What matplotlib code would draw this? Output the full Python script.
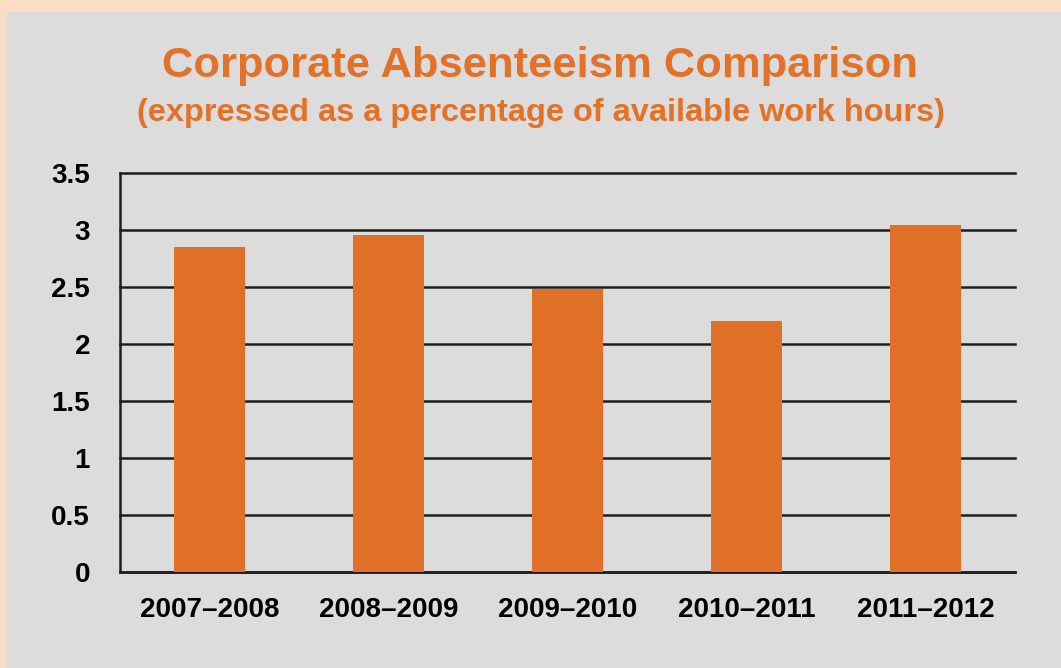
import matplotlib
matplotlib.use("Agg")
import matplotlib.pyplot as plt

categories = ["2007\u20132008", "2008\u20132009", "2009\u20132010", "2010\u20132011", "2011\u20132012"]
values = [2.85, 2.95, 2.48, 2.20, 3.04]
yticks = [0, 0.5, 1, 1.5, 2, 2.5, 3, 3.5]
ytick_labels = ["0", "0.5", "1", "1.5", "2", "2.5", "3", "3.5"]

W, H = 1061, 668
fig = plt.figure(figsize=(W / 100, H / 100), dpi=100)
fig.patch.set_facecolor("#F9DEC5")
bg = fig.add_axes([7 / W, 0, 1 - 7 / W, 1 - 12 / H], zorder=-5)
bg.set_facecolor("#DCDCDC")
bg.set_xticks([])
bg.set_yticks([])
for s in bg.spines.values():
    s.set_visible(False)

font = "Liberation Sans"
ax = fig.add_axes([120 / W, 1 - 572.3 / H, (1015 - 120) / W, (572.3 - 172.7) / H], zorder=1)
ax.set_facecolor("none")
x = list(range(len(categories)))
ax.bar(x, values, width=0.40, color="#E07027", zorder=3)
ax.set_xlim(-0.5, 4.5)
ax.set_ylim(0, 3.5)
ax.set_yticks(yticks)
ax.set_yticklabels(ytick_labels, fontfamily=font, fontweight="bold", fontsize=20)
ax.set_xticks(x)
ax.set_xticklabels(categories, fontfamily=font, fontweight="bold", fontsize=20)
ax.tick_params(axis="y", length=0, pad=21.6)
ax.tick_params(axis="x", length=0, pad=18)
for s in ["top", "right"]:
    ax.spines[s].set_visible(False)
for s in ["left", "bottom"]:
    ax.spines[s].set_color("#1E1E1E")
    ax.spines[s].set_linewidth(1.8)
ax.yaxis.grid(True, color="#1E1E1E", linewidth=1.8, zorder=1)
for gl in ax.yaxis.get_gridlines():
    gl.set_clip_on(False)
ax.set_axisbelow(True)

fig.text(540.5 / W, 1 - 76.7 / H, "Corporate Absenteeism Comparison", ha="center", va="baseline",
         fontfamily=font, fontweight="bold", fontsize=31.3, color="#E37228")
fig.text(540.5 / W, 1 - 120.7 / H, "(expressed as a percentage of available work hours)", ha="center",
         va="baseline", fontfamily=font, fontweight="bold", fontsize=23.4, color="#E37228")

fig.savefig("out.png", dpi=100, facecolor=fig.get_facecolor())
